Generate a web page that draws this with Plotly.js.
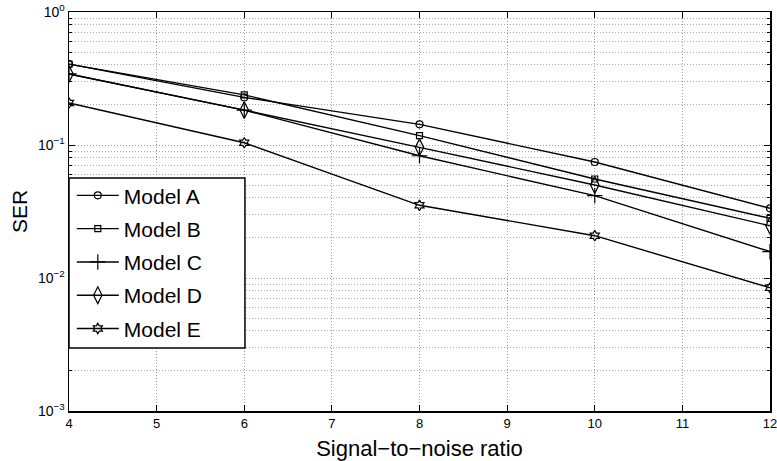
<!DOCTYPE html>
<html>
<head>
<meta charset="utf-8">
<script src="https://cdn.plot.ly/plotly-3.0.1.min.js"></script>
<style>html,body{margin:0;padding:0;background:#fff;}#chart{width:777px;height:461px;}</style>
</head>
<body>
<div id="chart"></div>
<script>
const snr = [4, 6, 8, 10, 12];
const seriesNames = ["Model A", "Model B", "Model C", "Model D", "Model E"];
const modelA = [0.406, 0.228, 0.143, 0.0745, 0.0334];
const modelB = [0.406, 0.238, 0.1175, 0.0555, 0.0281];
const modelC = [0.342, 0.183, 0.083, 0.0416, 0.0158];
const modelD = [0.342, 0.183, 0.096, 0.050, 0.0247];
const modelE = [0.207, 0.104, 0.0352, 0.0208, 0.00845];
const xTicks = [4, 5, 6, 7, 8, 9, 10, 11, 12];
const yMajorTicks = [0.001, 0.01, 0.1, 1];
const yTickText = ["10<sup>−3</sup>", "10<sup>−2</sup>", "10<sup>−1</sup>", "10<sup>0</sup>"];

const seriesValues = [modelA, modelB, modelC, modelD, modelE];
const symbols = ["circle-open", "square-open", "cross-thin-open", "diamond-tall-open", "hexagram-open"];
const sizes = [7, 6, 11, 12, 8];

const yMinor = [];
for (let e = -3; e < 0; e++) {
  for (let m = 2; m <= 9; m++) yMinor.push(m * Math.pow(10, e));
}

const traces = seriesValues.map((vals, i) => ({
  x: snr,
  y: vals,
  name: seriesNames[i],
  type: "scatter",
  mode: "lines+markers",
  line: {color: "#000", width: 1.4},
  marker: {symbol: symbols[i], size: sizes[i], color: "#000", line: {color: "#000", width: 1.2}},
  legendgroup: "g" + i
}));

const gridDash = "1px,2px";
const layout = {
  width: 777,
  height: 461,
  margin: {l: 69, r: 7, t: 12, b: 50},
  paper_bgcolor: "#fff",
  plot_bgcolor: "#fff",
  font: {family: "Liberation Sans, Arial, sans-serif", color: "#000", size: 13},
  showlegend: true,
  legend: {
    x: 0.004, y: 0.591, xanchor: "left", yanchor: "top",
    bgcolor: "rgba(0,0,0,0)", borderwidth: 0,
    font: {size: 21, color: "#000"},
    tracegroupgap: 3,
    traceorder: "grouped",
    itemwidth: 42
  },
  shapes: [{
    type: "rect", xref: "paper", yref: "paper",
    x0: 0, x1: 0.251, y0: 0.158, y1: 0.584,
    fillcolor: "#fff", line: {color: "#000", width: 1.5}, layer: "above"
  }],
  xaxis: {
    range: [4, 12],
    tickmode: "array",
    tickvals: xTicks,
    ticks: "inside",
    ticklen: 6,
    tickcolor: "#000",
    showline: true,
    linecolor: "#000",
    linewidth: 1.5,
    mirror: "allticks",
    showgrid: true,
    gridcolor: "#999",
    griddash: gridDash,
    gridwidth: 1,
    zeroline: false,
    tickfont: {size: 13},
    ticklabeloverflow: "allow",
    title: {text: "Signal−to−noise ratio", font: {size: 22}, standoff: 10}
  },
  yaxis: {
    type: "log",
    range: [-3, 0],
    tickmode: "array",
    tickvals: yMajorTicks,
    ticktext: yTickText,
    ticks: "inside",
    ticklen: 6,
    tickcolor: "#000",
    showline: true,
    linecolor: "#000",
    linewidth: 1.5,
    mirror: "allticks",
    showgrid: true,
    gridcolor: "#999",
    griddash: gridDash,
    gridwidth: 1,
    zeroline: false,
    tickfont: {size: 14},
    ticklabeloverflow: "allow",
    minor: {
      tickmode: "array",
      tickvals: yMinor,
      ticks: "inside",
      ticklen: 3,
      tickcolor: "#000",
      showgrid: true,
      gridcolor: "#aaa",
      griddash: gridDash,
      gridwidth: 1
    },
    title: {text: "SER", font: {size: 21}, standoff: 4}
  }
};

Plotly.newPlot("chart", traces, layout, {displayModeBar: false, staticPlot: true});
</script>
</body>
</html>
